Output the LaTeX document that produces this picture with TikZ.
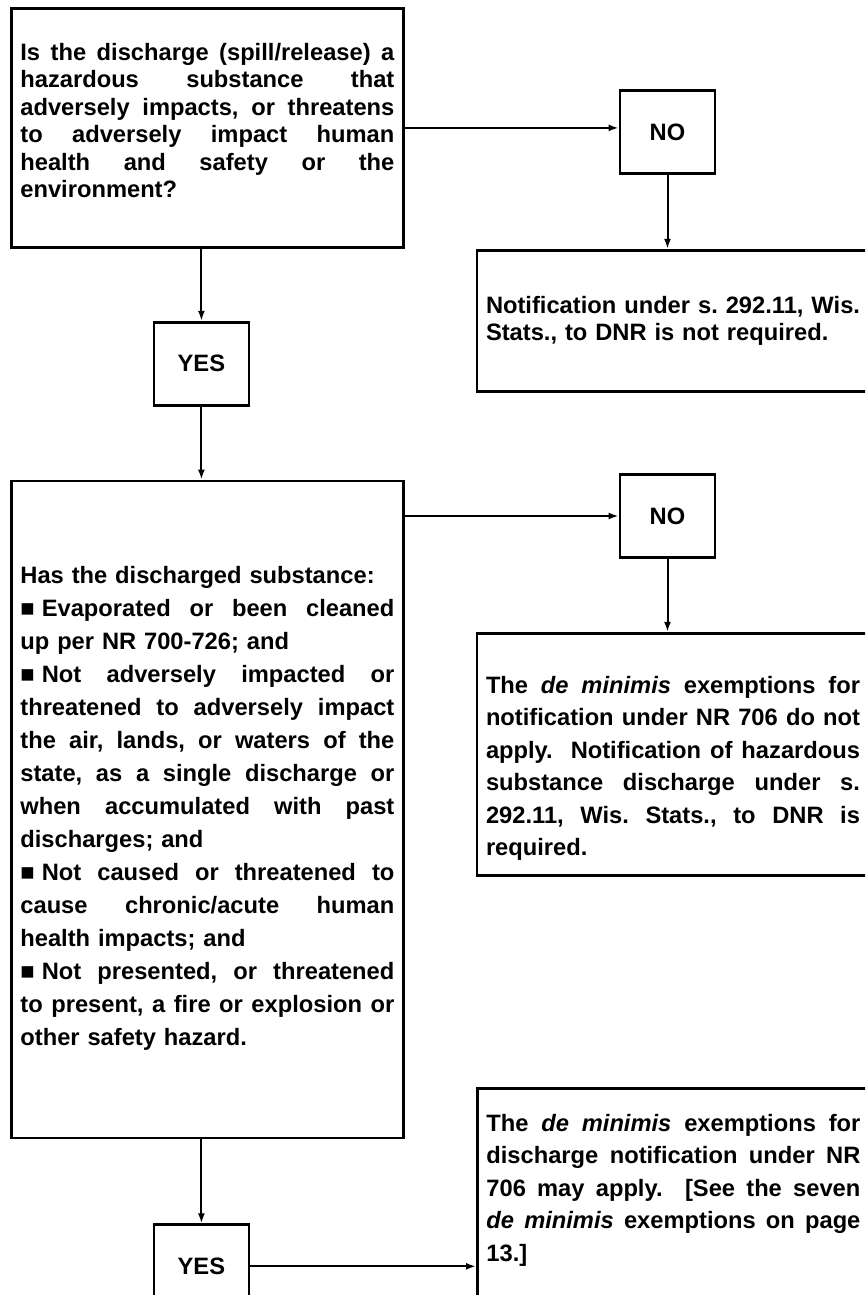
\documentclass[tikz,border=0pt]{standalone}
\usepackage{fontspec}
\setmainfont{Liberation Sans}
\usetikzlibrary{positioning,arrows.meta}

% text settings for the boxes (size, line spacing, line width)
\newlength\txtw
\setlength\txtw{374pt}
\newcommand\boxfont[1]{\fontsize{23.7pt}{#1}\selectfont\bfseries
  \setlength\parskip{0pt}\lineskiplimit=-\maxdimen}
\newcommand\boxtop[1]{\par\nointerlineskip\kern#1\relax}
\newcommand\jl[1]{\noindent\strut\smash{\hbox to\txtw{\frenchspacing
  \spaceskip=\fontdimen2\font plus 1fil\relax #1}}\par}
\newcommand\lastl[1]{\noindent\strut\smash{\hbox to\txtw{#1\hfil}}\par}
\newcommand\sqb{■\kern0.3em}

\begin{document}
\begin{tikzpicture}[x=1pt, y=-1pt,
  frame/.style={draw, line width=2.8pt, inner sep=0pt},
  qbox/.style={frame, text width=\txtw, inner xsep=9pt, minimum width=392pt},
  ansbox/.style={frame, minimum width=95pt, minimum height=83pt,
                 font=\boxfont{27.5pt}},
  arr/.style={-{Latex[length=10pt,width=7pt]}, line width=2pt},
]
  \useasboundingbox (0,0) rectangle (865,1295);
  \clip (0,0) rectangle (865,1295);

  % left column
  \node[qbox, anchor=north west, minimum height=239pt, font=\boxfont{27.5pt}]
    (q1) at (10,7) {\boxtop{32.75pt}
    \jl{Is the discharge (spill/release) a}
    \jl{hazardous substance that}
    \jl{adversely impacts, or threatens}
    \jl{to adversely impact human}
    \jl{health and safety or the}
    \lastl{environment?}\kern41.25pt};
  \node[ansbox, below=72pt of q1, xshift=-6pt] (yes1) {YES};
  \node[qbox, below=73pt of yes1, xshift=6pt, minimum height=657pt,
        font=\boxfont{33pt}] (q2) {\boxtop{79pt}
    \lastl{Has the discharged substance:}
    \jl{\sqb Evaporated or been cleaned}
    \lastl{up per NR 700-726; and}
    \jl{\sqb Not adversely impacted or}
    \jl{threatened to adversely impact}
    \jl{the air, lands, or waters of the}
    \jl{state, as a single discharge or}
    \jl{when accumulated with past}
    \lastl{discharges; and}
    \jl{\sqb Not caused or threatened to}
    \jl{cause chronic/acute human}
    \lastl{health impacts; and}
    \jl{\sqb Not presented, or threatened}
    \jl{to present, a fire or explosion or}
    \lastl{other safety hazard.}\kern83pt};
  \node[ansbox, below=84pt of q2, xshift=-6pt] (yes2) {YES};

  % right column
  \node[ansbox] (no1) at (667.5,132) {NO};
  \node[qbox, below=74pt of no1, xshift=5.5pt, minimum height=141pt,
        font=\boxfont{27.5pt}] (nt1) {\boxtop{43.75pt}
    \jl{Notification under s. 292.11, Wis.}
    \lastl{Stats., to DNR is not required.}\kern42.25pt};
  \node[ansbox] (no2) at (667.5,516) {NO};
  \node[qbox, below=73pt of no2, xshift=5.5pt, minimum height=242pt,
        font=\boxfont{32.5pt}] (nt2) {\boxtop{37.25pt}
    \jl{The \textit{de minimis} exemptions for}
    \jl{notification under NR 706 do not}
    \jl{apply.\ \ Notification of hazardous}
    \jl{substance discharge under s.}
    \jl{292.11, Wis. Stats., to DNR is}
    \lastl{required.}\kern9.75pt};
  \node[qbox, anchor=north west, minimum height=230pt, font=\boxfont{32.5pt}]
    (dm2) at (476,1087) {\boxtop{20.25pt}
    \jl{The \textit{de minimis} exemptions for}
    \jl{discharge notification under NR}
    \jl{706 may apply.\ \ [See the seven}
    \jl{\textit{de minimis} exemptions on page}
    \lastl{13.]}\kern47.25pt};

  % connectors
  \draw[arr] (q1.east) -- (q1.east -| no1.west);
  \draw[arr] (no1.south) -- (no1.south |- nt1.north);
  \draw[arr] (yes1.north |- q1.south) -- (yes1.north);
  \draw[arr] (yes1.south) -- (yes1.south |- q2.north);
  \draw[arr] (no2.west -| q2.east) -- (no2.west);
  \draw[arr] (no2.south) -- (no2.south |- nt2.north);
  \draw[arr] (yes2.north |- q2.south) -- (yes2.north);
  \draw[arr] (yes2.east) -- (yes2.east -| dm2.west);
\end{tikzpicture}
\end{document}
